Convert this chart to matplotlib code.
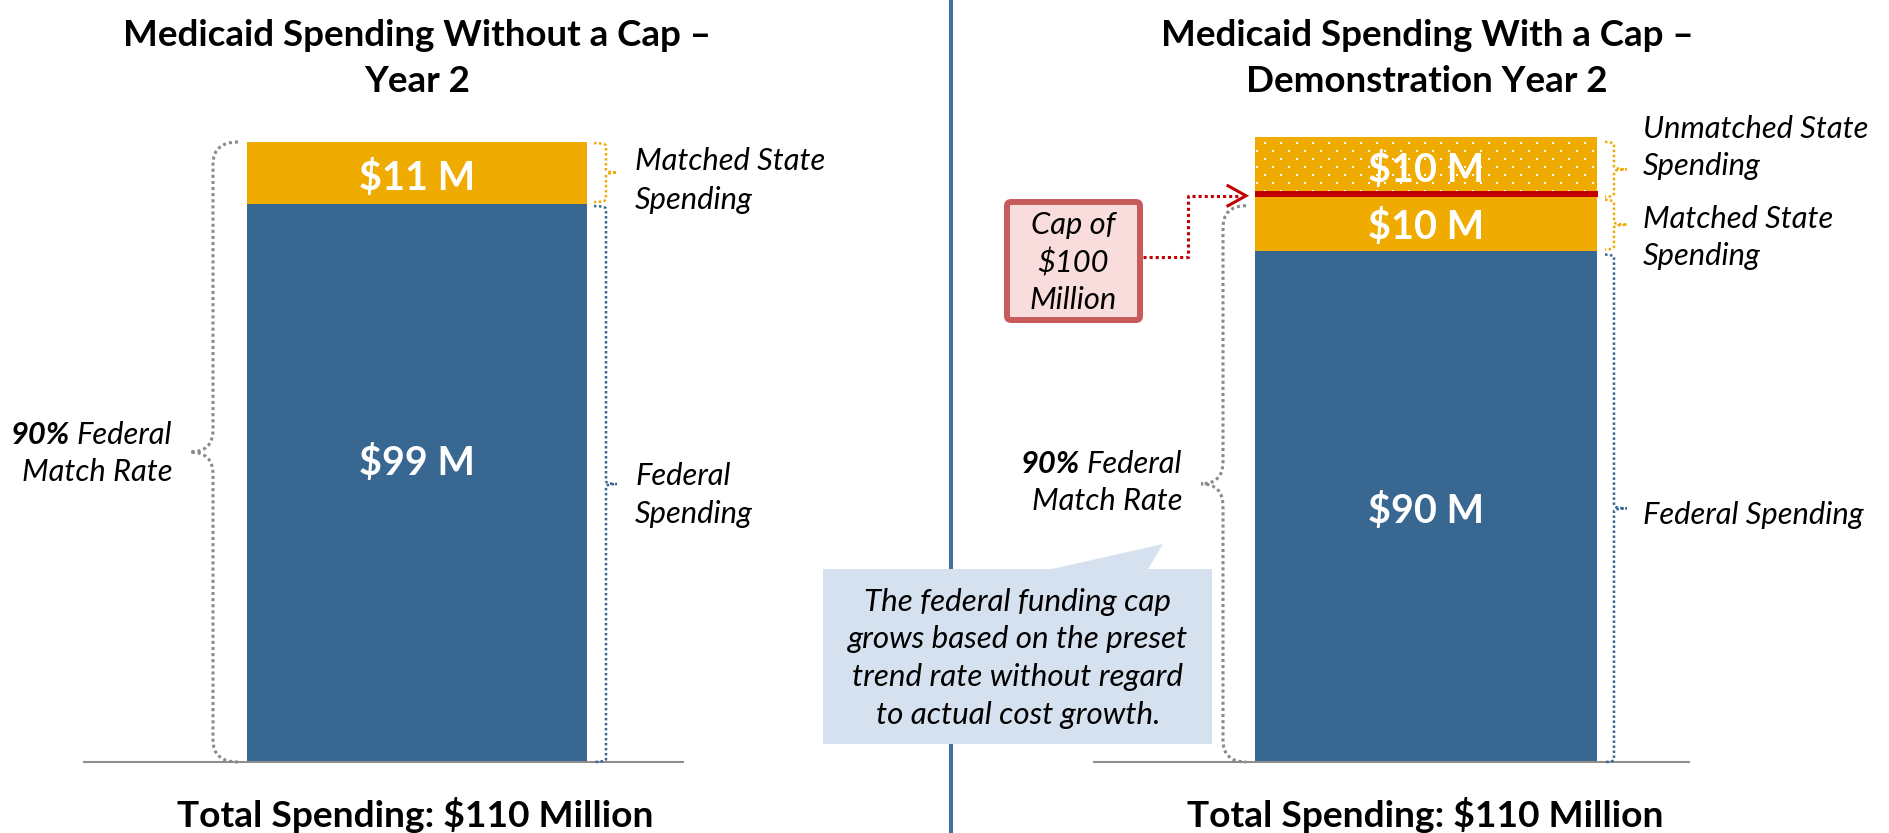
import matplotlib
matplotlib.use("Agg")
import matplotlib.pyplot as plt
import numpy as np
from matplotlib.path import Path
from matplotlib.patches import PathPatch, FancyBboxPatch, Polygon

# ---------------- data ----------------
left_title = ["Medicaid Spending Without a Cap \u2013", "Year 2"]
right_title = ["Medicaid Spending With a Cap \u2013", "Demonstration Year 2"]
left_segments = ["Federal Spending", "Matched State Spending"]
left_values = [99, 11]
left_value_labels = ["$99 M", "$11 M"]
right_segments = ["Federal Spending", "Matched State Spending", "Unmatched State Spending"]
right_values = [90, 10, 10]
right_value_labels = ["$90 M", "$10 M", "$10 M"]
cap_value = 100
cap_label = ["Cap of", "$100", "Million"]
match_rate_bold = "90%"
match_rate_rest = ["Federal", "Match Rate"]
left_side_labels = [["Federal", "Spending"], ["Matched State", "Spending"]]
right_side_labels = [["Federal Spending"], ["Matched State", "Spending"], ["Unmatched State", "Spending"]]
total_label = "Total Spending: $110 Million"
callout_lines = ["The federal funding cap", "grows based on the preset",
                 "trend rate without regard", "to actual cost growth."]

# ---------------- style ----------------
BLUE = "#386792"
ORANGE = "#F0AB00"
RED = "#C00000"
GRAY = "#8A8A8A"
DIVIDER = "#41709F"
CALLOUT = "#D5E1EE"
CAP_FACE = "#F9DCDC"
CAP_EDGE = "#C75B5B"
FONT = ["Lato", "DejaVu Sans"]
plt.rcParams["font.family"] = FONT

W, H = 1889, 833
fig = plt.figure(figsize=(W / 100, H / 100), dpi=100)
fig.patch.set_facecolor("white")
renderer = fig.canvas.get_renderer()

BASE_Y, AX_TOP = 762, 100
ax_l = fig.add_axes([0, (H - BASE_Y) / H, 950 / W, (BASE_Y - AX_TOP) / H])
ax_l.set_xlim(0, 950)
ax_l.set_ylim(0, 117.46)
ax_r = fig.add_axes([951 / W, (H - BASE_Y) / H, 938 / W, (BASE_Y - AX_TOP) / H])
ax_r.set_xlim(0, 938)
ax_r.set_ylim(0, 116.5)
for a in (ax_l, ax_r):
    a.axis("off")

ov = fig.add_axes([0, 0, 1, 1], zorder=5)
ov.set_xlim(0, W)
ov.set_ylim(H, 0)
ov.axis("off")


def fit(s, target, **kw):
    t = fig.text(0, 0, s, fontsize=20, **kw)
    w = t.get_window_extent(renderer).width
    t.remove()
    return 20 * target / w


FS_TITLE = fit(left_title[0], 590, fontweight="bold")
FS_TOTAL = fit(total_label, 476, fontweight="bold")
FS_VAL = fit("$11 M", 116, fontweight="bold")
FS_LAB = fit("Federal Spending", 220, fontstyle="italic")
FS_CALL = fit(callout_lines[1], 340, fontstyle="italic")
FS_CAP = fit(cap_label[2], 87, fontstyle="italic")


def px_y(ax, v):
    return H - ax.transData.transform((0, v))[1]


def value_label(ax, x, y, s):
    ax.annotate(s, (x, y), xytext=(0, -5), textcoords="offset pixels", ha="center",
                va="center", color="white", fontsize=FS_VAL, fontweight="bold", zorder=6)


# ---------------- bars ----------------
L_CX, L_W = 417, 340
R_CX, R_W = 475, 342
label_frac_left = [0.545, 0.5]

left_colors = [BLUE, ORANGE]
bottom = 0
for v, lab, fr, c in zip(left_values, left_value_labels, label_frac_left, left_colors):
    ax_l.bar(L_CX, v, bottom=bottom, width=L_W, color=c, linewidth=0, zorder=2)
    value_label(ax_l, L_CX, bottom + v * fr, lab)
    bottom += v

right_colors = [BLUE, ORANGE, ORANGE]
bottom = 0
seg_bounds_r = []
for v, lab, c in zip(right_values, right_value_labels, right_colors):
    ax_r.bar(R_CX, v, bottom=bottom, width=R_W, color=c, linewidth=0, zorder=2)
    value_label(ax_r, R_CX, bottom + v / 2, lab)
    seg_bounds_r.append((bottom, bottom + v))
    bottom += v

# dotted texture on the unmatched (above-cap) segment
b, t = seg_bounds_r[2]
hpx = int(round(px_y(ax_r, b) - px_y(ax_r, t)))
wpx = R_W
img = np.zeros((hpx, wpx, 4))
for i, r in enumerate(range(5, hpx - 1, 8)):
    off = 9 if i % 2 == 0 else 1
    for c in range(off, wpx - 1, 16):
        img[r:r + 2, c:c + 2] = [1, 1, 1, 1]
ax_r.imshow(img, extent=(R_CX - R_W / 2, R_CX + R_W / 2, b, t), origin="upper",
            aspect="auto", interpolation="nearest", zorder=3)
ax_r.set_xlim(0, 938)
ax_r.set_ylim(0, 116.5)

# cap line
ax_r.plot([R_CX - R_W / 2, R_CX + R_W / 2 + 1], [cap_value, cap_value], color=RED,
          lw=4.3, solid_capstyle="butt", zorder=4)

# ---------------- overlay decorations ----------------
ov.plot([951, 951], [0, H], color=DIVIDER, lw=2.9, zorder=1)
ov.plot([84, 683], [BASE_Y, BASE_Y], color="#8E8E8E", lw=1.5, zorder=2)
ov.plot([1094, 1689], [BASE_Y, BASE_Y], color="#8E8E8E", lw=1.5, zorder=2)

for cx, lines in ((417, left_title), (1427, right_title)):
    for y, s in zip((35, 81), lines):
        ov.text(cx, y, s, ha="center", va="center", fontsize=FS_TITLE, fontweight="bold",
                color="black")
ov.text(415, 815, total_label, ha="center", va="center", fontsize=FS_TOTAL, fontweight="bold")
ov.text(1425, 815, total_label, ha="center", va="center", fontsize=FS_TOTAL, fontweight="bold")


def brace(x_end, x_mid, x_tip, y0, y1, r, color, lw, zorder=3):
    ym = (y0 + y1) / 2
    r = min(r, (y1 - y0) / 4)
    verts = [(x_end, y0), (x_mid, y0), (x_mid, y0 + r),
             (x_mid, ym - r), (x_mid, ym), (x_tip, ym),
             (x_mid, ym), (x_mid, ym + r),
             (x_mid, y1 - r), (x_mid, y1), (x_end, y1)]
    codes = [Path.MOVETO, Path.CURVE3, Path.CURVE3,
             Path.LINETO, Path.CURVE3, Path.CURVE3,
             Path.CURVE3, Path.CURVE3,
             Path.LINETO, Path.CURVE3, Path.CURVE3]
    ov.add_patch(PathPatch(Path(verts, codes), fill=False, edgecolor=color, lw=lw,
                           linestyle=(0, (1, 1)), capstyle="butt", zorder=zorder))


lt = sum(left_values)
brace(238, 213, 190, px_y(ax_l, lt), px_y(ax_l, 0), 22, GRAY, 2.2)
brace(594, 606, 617, px_y(ax_l, lt) + 1, px_y(ax_l, left_values[0]) - 2, 3, ORANGE, 1.8)
brace(594, 606, 617, px_y(ax_l, left_values[0]) + 2, px_y(ax_l, 0), 3, BLUE, 1.8)

cap_px = px_y(ax_r, cap_value)
brace(1246, 1223, 1201, cap_px + 12, px_y(ax_r, 0), 22, GRAY, 2.2)
brace(1605, 1614, 1627, px_y(ax_r, seg_bounds_r[2][1]) + 5, cap_px + 3, 3, ORANGE, 1.8)
brace(1605, 1614, 1627, cap_px + 6, px_y(ax_r, seg_bounds_r[1][0]) - 1, 3, ORANGE, 1.8)
brace(1605, 1614, 1627, px_y(ax_r, seg_bounds_r[0][1]) + 4, px_y(ax_r, 0), 3, BLUE, 1.8)

for x, blocks, ys in ((635, left_side_labels, [[476, 514], [161, 200]]),
                      (1643, right_side_labels, [[515], [219, 256], [129, 166]])):
    for lines, yy in zip(blocks, ys):
        for s, y in zip(lines, yy):
            ov.text(x, y, s, ha="left", va="center", fontsize=FS_LAB, fontstyle="italic")


def match_rate(x_right, y1, y2):
    t = ov.text(x_right, y1, match_rate_rest[0], ha="right", va="center", fontsize=FS_LAB,
                fontstyle="italic")
    w = t.get_window_extent(renderer).width
    ov.text(x_right - w - FS_LAB * 0.32, y1, match_rate_bold, ha="right", va="center",
            fontsize=FS_LAB, fontstyle="italic", fontweight="bold")
    ov.text(x_right, y2, match_rate_rest[1], ha="right", va="center", fontsize=FS_LAB,
            fontstyle="italic")


match_rate(172, 435, 472)
match_rate(1182, 464, 501)

ov.add_patch(FancyBboxPatch((1007, 202), 133, 118, boxstyle="round,pad=0,rounding_size=4",
                            facecolor=CAP_FACE, edgecolor=CAP_EDGE, lw=4.3, zorder=4))
for s, y in zip(cap_label, (225, 263, 300)):
    ov.text(1073, y, s, ha="center", va="center", fontsize=FS_CAP, fontstyle="italic", zorder=5)

ay = cap_px + 2
ov.plot([1143, 1188, 1188, 1238], [257, 257, ay, ay], color=RED, lw=2.2,
        linestyle=(0, (1, 1)), dash_capstyle="butt", zorder=4)
ov.plot([1228, 1246, 1228], [ay - 10, ay, ay + 10], color=RED, lw=2.2,
        solid_joinstyle="miter", zorder=4)

ov.add_patch(Polygon([(823, 569), (1052, 569), (1163, 544), (1148, 569), (1212, 569),
                      (1212, 744), (823, 744)], closed=True, facecolor=CALLOUT,
                     edgecolor="none", zorder=3))
for s, y in zip(callout_lines, (602, 639, 677, 715)):
    ov.text(1018, y, s, ha="center", va="center", fontsize=FS_CALL, fontstyle="italic", zorder=4)

fig.savefig("out.png", dpi=100, facecolor="white")
